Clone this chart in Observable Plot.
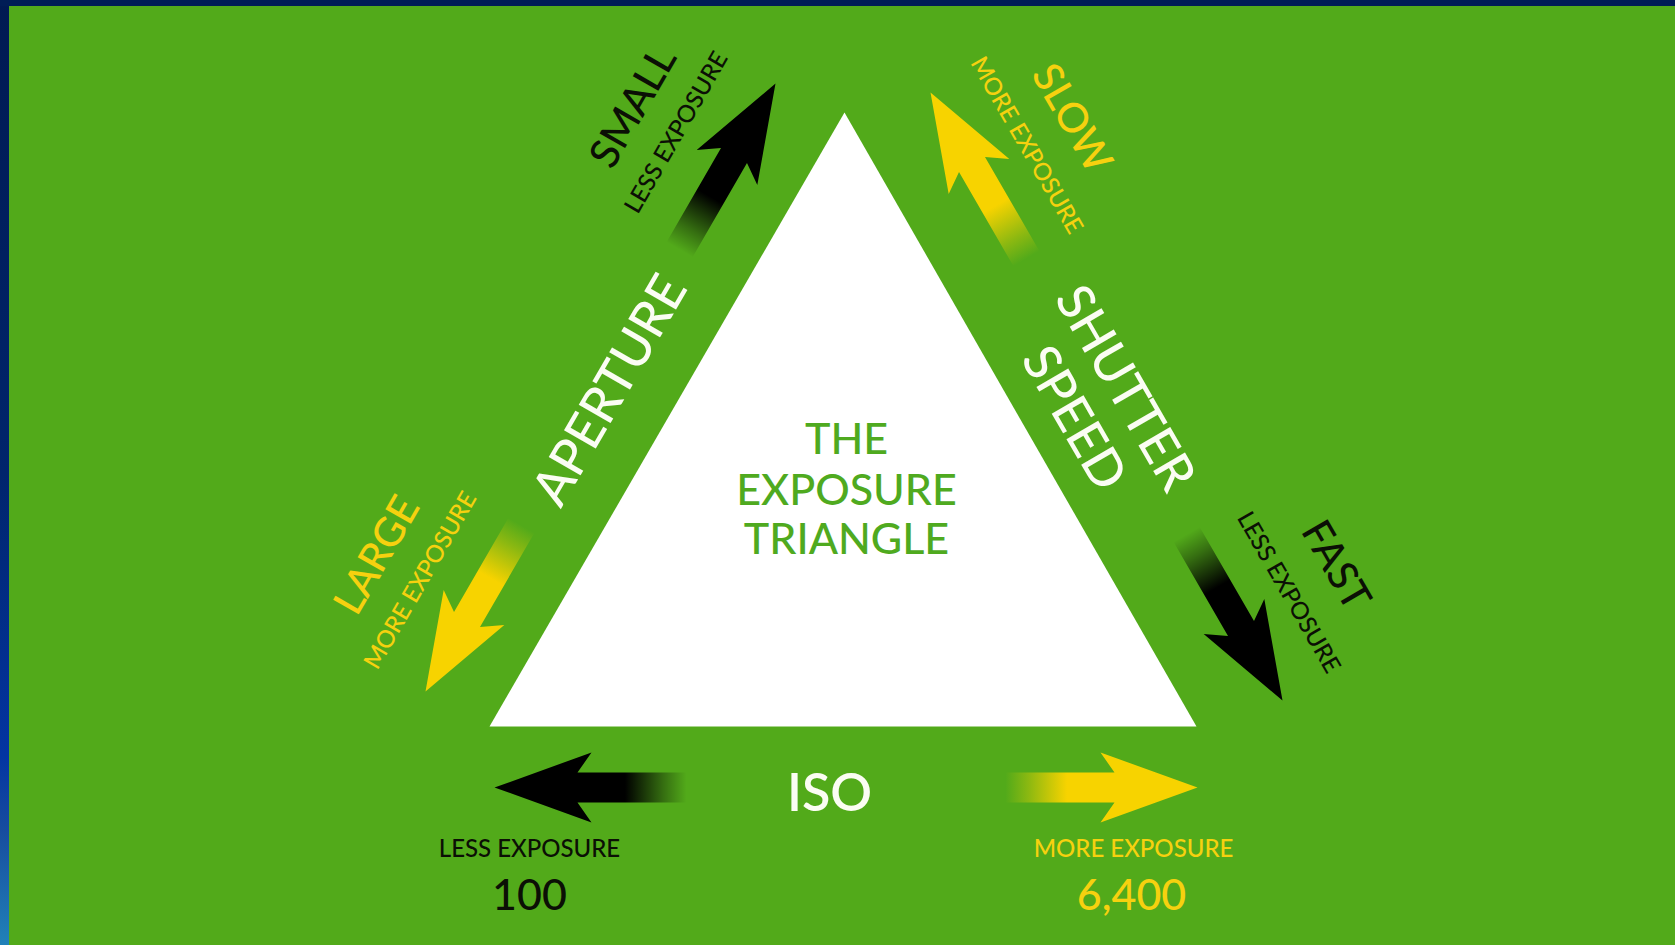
<!DOCTYPE html>
<html><head><meta charset="utf-8">
<script src="https://cdn.jsdelivr.net/npm/d3@7"></script>
<script src="https://cdn.jsdelivr.net/npm/@observablehq/plot@0.6"></script>
<style>
html,body{margin:0;padding:0;background:#52aa1a;overflow:hidden}
svg{display:block}
</style></head><body><div id="chart"></div>
<script>
// ---- data (page coordinates, y downward) ----
const triangleX = [844, 1196, 489];
const triangleY = [112, 726, 726];

// arrows: tip position, pointing angle (deg, clockwise from +x), tone
const arrowNames = ["aperture-small", "aperture-large", "shutter-slow", "shutter-fast", "iso-100", "iso-6400"];
const arrowTipX  = [775, 425, 930, 1282, 494, 1197];
const arrowTipY  = [83, 691, 92, 700, 787, 787];
const arrowAngle = [-60, 120, -120, 60, 180, 0];
const arrowTone  = ["less", "more", "more", "less", "less", "more"];

// labels
const labelText   = ["APERTURE", "SHUTTER", "SPEED", "ISO",
                     "THE", "EXPOSURE", "TRIANGLE",
                     "SMALL", "LARGE", "SLOW", "FAST",
                     "LESS EXPOSURE", "MORE EXPOSURE", "MORE EXPOSURE", "LESS EXPOSURE", "LESS EXPOSURE", "MORE EXPOSURE",
                     "100", "6,400"];
const labelX      = [610, 1124, 1073, 829,
                     846, 846, 846,
                     633, 377, 1071, 1335,
                     676, 420, 1026, 1288, 529, 1133,
                     529, 1131];
const labelY      = [390, 388, 418, 794,
                     440, 491, 540,
                     107, 555, 118, 565,
                     132, 580, 145, 592, 849, 849,
                     896, 896];
const labelRotate = [-60, 60, 60, 0,
                     0, 0, 0,
                     -60, -60, 60, 60,
                     -60, -60, 60, 60, 0, 0,
                     0, 0];
const labelRole   = ["side", "side", "side", "iso",
                     "title", "title", "title",
                     "big", "big", "big", "big",
                     "small", "small", "small", "small", "small", "small",
                     "value", "value"];
const labelTone   = ["white", "white", "white", "white",
                     "green", "green", "green",
                     "less", "more", "more", "less",
                     "less", "more", "more", "less", "less", "more",
                     "less", "more"];

// frame bands
const frameX1 = [0, 0];
const frameX2 = [9, 1675];
const frameY1 = [0, 0];
const frameY2 = [945, 6];

// ---- styling ----
const toneColor = {less: "#0b0f05", more: "#f6d10f", white: "#fbfdf3", green: "#4faa1f"};
const roleSize = {side: 51, iso: 52, title: 43, big: 41, small: 24, value: 43};
const roleWeight = {side: 500, iso: 600, title: 500, big: 500, small: 500, value: 500};

// arrow geometry (px along / across)
const A = {len: 192, head: 97, notch: 83, barb: 35, shaft: 15};
function arrowPoly(i) {
  const t = arrowAngle[i] * Math.PI / 180;
  const ux = Math.cos(t), uy = Math.sin(t);
  const nx = -uy, ny = ux;
  const tx = arrowTipX[i], ty = arrowTipY[i];
  const pts = [[0, 0], [A.head, A.barb], [A.notch, A.shaft], [A.len, A.shaft],
               [A.len, -A.shaft], [A.notch, -A.shaft], [A.head, -A.barb]];
  return pts.map(([b, s]) => ({x: tx - b * ux + s * nx, y: ty - b * uy + s * ny}));
}

const tri = triangleX.map((x, i) => ({x, y: triangleY[i]}));
const labels = labelText.map((t, i) => ({
  text: t, x: labelX[i], y: labelY[i], r: labelRotate[i], role: labelRole[i],
  fill: toneColor[labelTone[i]]
}));
const frames = frameX1.map((x1, i) => ({x1, x2: frameX2[i], y1: frameY1[i], y2: frameY2[i]}));

const roles = ["side", "iso", "title", "big", "small", "value"];

const chart = Plot.plot({
  width: 1675, height: 945, margin: 0,
  x: {domain: [0, 1675], range: [0, 1675], axis: null},
  y: {domain: [0, 945], range: [0, 945], axis: null},
  color: {type: "identity"},
  style: {background: "#52aa1a", fontFamily: "Lato, 'Open Sans', sans-serif"},
  marks: [
    Plot.line(tri, {x: "x", y: "y", fill: "white", stroke: "none", curve: "linear-closed"}),
    ...arrowNames.map((n, i) => Plot.line(arrowPoly(i), {
      x: "x", y: "y", fill: `url(#grad-${i})`, stroke: "none", curve: "linear-closed"
    })),
    ...roles.map(role => Plot.text(labels.filter(d => d.role === role), {
      x: "x", y: "y", text: "text", rotate: "r", fill: "fill",
      fontSize: roleSize[role], fontWeight: roleWeight[role],
      textAnchor: "middle", lineAnchor: "middle"
    })),
    Plot.rect(frames.slice(0, 1), {x1: "x1", x2: "x2", y1: "y1", y2: "y2", fill: "url(#frameGrad)"}),
    Plot.rect(frames.slice(1), {x1: "x1", x2: "x2", y1: "y1", y2: "y2", fill: "#001d56"})
  ]
});

// gradient definitions, positioned through the plot's scales
const sx = chart.scale("x"), sy = chart.scale("y");
const defs = d3.create("svg:defs");
arrowNames.forEach((n, i) => {
  const t = arrowAngle[i] * Math.PI / 180;
  const tx = arrowTipX[i], ty = arrowTipY[i];
  const col = arrowTone[i] === "less" ? "#000000" : "#f7d300";
  const g = defs.append("linearGradient").attr("id", `grad-${i}`)
    .attr("gradientUnits", "userSpaceOnUse")
    .attr("x1", sx.apply(tx - A.len * Math.cos(t))).attr("y1", sy.apply(ty - A.len * Math.sin(t)))
    .attr("x2", sx.apply(tx)).attr("y2", sy.apply(ty));
  [[0, 0], [0.12, 0.35], [0.32, 1], [1, 1]].forEach(([o, op]) =>
    g.append("stop").attr("offset", o).attr("stop-color", col).attr("stop-opacity", op));
});
const fg = defs.append("linearGradient").attr("id", "frameGrad")
  .attr("x1", 0).attr("y1", 0).attr("x2", 0).attr("y2", 1);
[[0, "#001a52"], [0.5, "#00256c"], [0.8, "#0335a2"], [0.88, "#174d9f"], [1, "#2182b9"]]
  .forEach(([o, c]) => fg.append("stop").attr("offset", o).attr("stop-color", c));
chart.insertBefore(defs.node(), chart.firstChild);

document.getElementById("chart").appendChild(chart);
</script></body></html>
